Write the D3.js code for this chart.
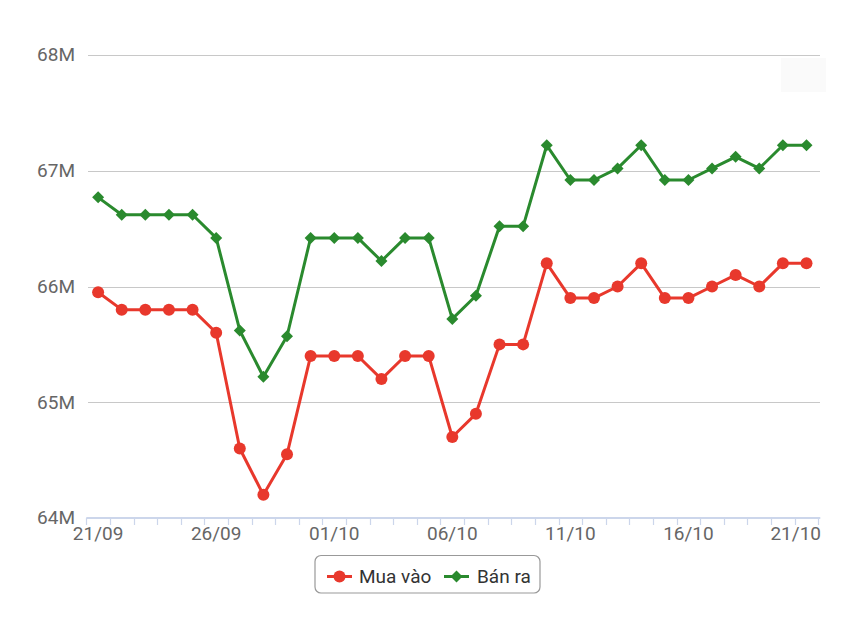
<!DOCTYPE html>
<html>
<head>
<meta charset="utf-8">
<script src="https://cdn.jsdelivr.net/npm/d3@7"></script>
<style>
  html, body { margin: 0; padding: 0; background: #fff; }
  svg { display: block; font-family: Roboto, "Noto Sans", sans-serif; }
</style>
</head>
<body>
<svg id="chart" width="860" height="622"></svg>
<script>
const dates = ["21/09","22/09","23/09","24/09","25/09","26/09","27/09","28/09","29/09","30/09",
  "01/10","02/10","03/10","04/10","05/10","06/10","07/10","08/10","09/10","10/10",
  "11/10","12/10","13/10","14/10","15/10","16/10","17/10","18/10","19/10","20/10","21/10"];
// values in millions
const buyValues = [65.95,65.8,65.8,65.8,65.8,65.6,64.6,64.2,64.55,65.4,65.4,65.4,65.2,65.4,65.4,64.7,64.9,65.5,65.5,66.2,65.9,65.9,66.0,66.2,65.9,65.9,66.0,66.1,66.0,66.2,66.2];
const sellValues = [66.77,66.62,66.62,66.62,66.62,66.42,65.62,65.22,65.57,66.42,66.42,66.42,66.22,66.42,66.42,65.72,65.92,66.52,66.52,67.22,66.92,66.92,67.02,67.22,66.92,66.92,67.02,67.12,67.02,67.22,67.22];
const yTicks = [64, 65, 66, 67, 68];
const xLabelDates = ["21/09","26/09","01/10","06/10","11/10","16/10","21/10"];
const seriesNames = ["Mua vào", "Bán ra"];
const seriesColors = ["#e8382c", "#2a8a2e"];

const svg = d3.select("#chart");
const plotLeft = 86.3, plotRight = 818.3, plotTop = 55, plotBottom = 518;

const x = d3.scaleBand().domain(dates).range([plotLeft, plotRight]).padding(0);
const cx = d => x(d) + x.bandwidth() / 2;
const y = d3.scaleLinear().domain([64, 68]).range([plotBottom, plotTop]);

// faint button background top-right
svg.append("rect").attr("x", 781).attr("y", 58).attr("width", 45).attr("height", 34)
  .attr("fill", "#fafafa");

// grid lines
svg.append("g").selectAll("line").data(yTicks.filter(t => t !== 64)).join("line")
  .attr("x1", 88).attr("x2", 820)
  .attr("y1", d => Math.round(y(d)) + 0.5).attr("y2", d => Math.round(y(d)) + 0.5)
  .attr("stroke", "#c8c8c8").attr("stroke-width", 1);

// y labels
svg.append("g").selectAll("text").data(yTicks).join("text")
  .attr("x", 75).attr("y", d => y(d) - 0.5).attr("dy", "0.36em")
  .attr("text-anchor", "end").attr("fill", "#666").attr("font-size", 19)
  .text(d => d + "M");

// x axis line and ticks
const xAxis = d3.axisBottom(x).tickSize(7).tickFormat("");
const gx = svg.append("g").attr("transform", `translate(0,${plotBottom})`).call(xAxis);
gx.select(".domain").attr("stroke", "#ccd6eb").attr("stroke-width", 2).attr("d", `M${plotLeft},0H${plotRight + 2}`);
gx.selectAll(".tick").attr("transform", d => `translate(${Math.round(x(d)) + 0.5},0)`);
gx.selectAll(".tick line").attr("stroke", "#ccd6eb").attr("stroke-width", 1.2);
gx.append("line").attr("x1", Math.round(plotRight) + 0.5).attr("x2", Math.round(plotRight) + 0.5)
  .attr("y1", 0).attr("y2", 7).attr("stroke", "#ccd6eb").attr("stroke-width", 1.2);

// x labels
svg.append("g").selectAll("text").data(xLabelDates).join("text")
  .attr("x", (d, i) => i === xLabelDates.length - 1 ? 821 : cx(d))
  .attr("y", 540)
  .attr("text-anchor", (d, i) => i === xLabelDates.length - 1 ? "end" : "middle")
  .attr("fill", "#666").attr("font-size", 19)
  .text(d => d);

const line = d3.line().x((v, i) => cx(dates[i])).y(v => y(v));

// buy series
svg.append("path").datum(buyValues).attr("d", line)
  .attr("fill", "none").attr("stroke", seriesColors[0]).attr("stroke-width", 3).attr("stroke-linejoin", "round");
svg.append("g").selectAll("circle").data(buyValues).join("circle")
  .attr("cx", (v, i) => cx(dates[i])).attr("cy", v => y(v)).attr("r", 6)
  .attr("fill", seriesColors[0]);

// sell series
svg.append("path").datum(sellValues).attr("d", line)
  .attr("fill", "none").attr("stroke", seriesColors[1]).attr("stroke-width", 3).attr("stroke-linejoin", "round");
const diamond = (px, py, s) => `M${px},${py - s}L${px + s},${py}L${px},${py + s}L${px - s},${py}Z`;
svg.append("g").selectAll("path").data(sellValues).join("path")
  .attr("d", (v, i) => diamond(cx(dates[i]), y(v), 6))
  .attr("fill", seriesColors[1]);

// legend
const lg = svg.append("g");
lg.append("rect").attr("x", 315).attr("y", 555.5).attr("width", 225).attr("height", 37.5)
  .attr("rx", 6).attr("fill", "#fff").attr("stroke", "#999").attr("stroke-width", 1.2);
const ly = 576.5;
lg.append("line").attr("x1", 327).attr("x2", 352).attr("y1", ly).attr("y2", ly)
  .attr("stroke", seriesColors[0]).attr("stroke-width", 3);
lg.append("circle").attr("cx", 339.5).attr("cy", ly).attr("r", 6).attr("fill", seriesColors[0]);
lg.append("text").attr("x", 359).attr("y", ly).attr("dy", "0.36em").attr("fill", "#333")
  .attr("font-size", 19).text(seriesNames[0]);
lg.append("line").attr("x1", 444).attr("x2", 469).attr("y1", ly).attr("y2", ly)
  .attr("stroke", seriesColors[1]).attr("stroke-width", 3);
lg.append("path").attr("d", diamond(456.5, ly, 6)).attr("fill", seriesColors[1]);
lg.append("text").attr("x", 477).attr("y", ly).attr("dy", "0.36em").attr("fill", "#333")
  .attr("font-size", 19).text(seriesNames[1]);
</script>
</body>
</html>
